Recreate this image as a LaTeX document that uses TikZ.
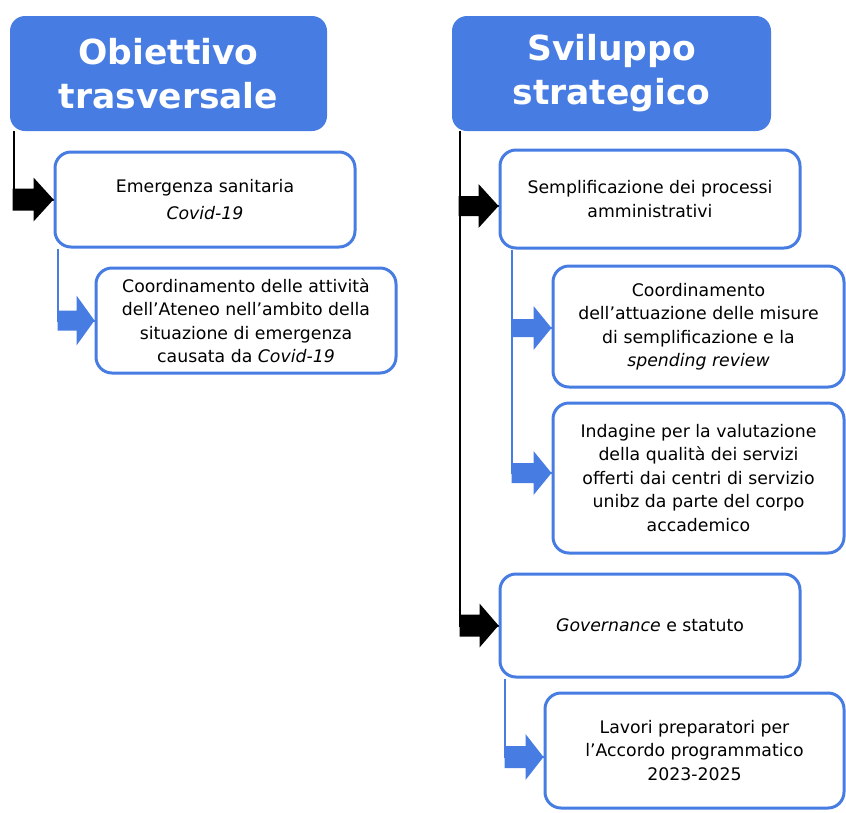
\documentclass[tikz,border=0pt]{standalone}
\usepackage{fontspec}
\setmainfont{DejaVu Sans}
\usetikzlibrary{calc}
\definecolor{ublue}{RGB}{71,125,226}
% #1 colour, #2 tip, #3 head length, #4 head half height, #5 shaft half height, #6 total length
\newcommand\blockarr[6]{%
  \fill[#1] (#2) -- ++(-#3,-#4) -- ++(0,{#4-#5}) -- ++({#3-#6},0) -- ++(0,{2*#5})
     -- ++({#6-#3},0) -- ++(0,{#4-#5}) -- cycle;}
\begin{document}
\begin{tikzpicture}[x=1pt,y=-1pt,
  head/.style={draw=none, fill=ublue, rounded corners=15pt, text=white,
    font=\fontsize{34.5}{44}\selectfont\bfseries, align=center, inner sep=0pt},
  box/.style={draw=ublue, line width=3pt, rounded corners=16pt, fill=white,
    align=center, font=\fontsize{17.3}{23.5}\selectfont, inner sep=0pt},
  vline/.style={line width=2pt}]
\useasboundingbox (0,0) rectangle (846,812);

% headers
\node[head, minimum width=317pt, minimum height=115pt] (h1) at (168.5,73.5) {Obiettivo\\trasversale};
\node[head, minimum width=319pt, minimum height=115pt] (h2) at (611.5,73.5) {Sviluppo\\strategico};

% box positions
\path
  (205,199.5) coordinate (c1)
  (246,320.5) coordinate (c2)
  (650,199) coordinate (c3)
  (698.5,326.5) coordinate (c4)
  (698.5,478) coordinate (c5)
  (650,625.5) coordinate (c6)
  (694.5,750.5) coordinate (c7);

\node[box, draw=none, fill=none, minimum width=300pt, minimum height=95pt] (b1) at (c1) {};
\node[box, draw=none, fill=none, minimum width=300pt, minimum height=105pt] (b2) at (c2) {};
\node[box, draw=none, fill=none, minimum width=300pt, minimum height=98pt] (b3) at (c3) {};
\node[box, draw=none, fill=none, minimum width=291pt, minimum height=121pt] (b4) at (c4) {};
\node[box, draw=none, fill=none, minimum width=291pt, minimum height=150pt] (b5) at (c5) {};
\node[box, draw=none, fill=none, minimum width=300pt, minimum height=103pt] (b6) at (c6) {};
\node[box, draw=none, fill=none, minimum width=299pt, minimum height=115pt] (b7) at (c7) {};

% connector lines
\draw[vline] ([xshift=4pt]h1.south west) |- (b1.west);
\draw[vline, ublue] ([xshift=4pt]b1.south west) |- (b2.west);
\draw[vline] ([xshift=8pt]h2.south west) |- ([yshift=-7pt]b3.west);
\draw[vline] ([xshift=8pt]h2.south west) |- (b6.west);
\draw[vline, ublue] ([xshift=13pt]b3.south west) |- ([yshift=-1.5pt]b4.west);
\draw[vline, ublue] ([xshift=13pt]b3.south west) |- ([yshift=5pt]b5.west);
\draw[vline, ublue] ([xshift=6pt]b6.south west) |- ([yshift=-6.5pt]b7.west);

% visible boxes
\node[box, minimum width=300pt, minimum height=95pt] at (c1) {Emergenza sanitaria\\[3pt]\textit{Covid-19}};
\node[box, minimum width=300pt, minimum height=105pt] at (c2) {Coordinamento delle attività\\dell’Ateneo nell’ambito della\\situazione di emergenza\\causata da \textit{Covid-19}};
\node[box, minimum width=300pt, minimum height=98pt] at (c3) {Semplificazione dei processi\\amministrativi};
\node[box, minimum width=291pt, minimum height=121pt] at (c4) {Coordinamento\\dell’attuazione delle misure\\di semplificazione e la\\\textit{spending review}};
\node[box, minimum width=291pt, minimum height=150pt] at (c5) {Indagine per la valutazione\\della qualità dei servizi\\offerti dai centri di servizio\\unibz da parte del corpo\\accademico};
\node[box, minimum width=300pt, minimum height=103pt] at (c6) {\textit{Governance} e statuto};
\node[box, minimum width=299pt, minimum height=115pt] at (c7) {Lavori preparatori per\\l’Accordo programmatico\\2023-2025};

% block arrows
\blockarr{black}{b1.west}{20}{22}{11}{41}
\blockarr{ublue}{b2.west}{18}{25}{10}{37}
\blockarr{black}{[yshift=-7pt]b3.west}{20}{22}{10}{40}
\blockarr{ublue}{[yshift=-1.5pt]b4.west}{18}{22}{9}{40}
\blockarr{ublue}{[yshift=5pt]b5.west}{18}{22}{10}{40}
\blockarr{black}{b6.west}{19}{22}{11}{39}
\blockarr{ublue}{[yshift=-6.5pt]b7.west}{18}{23}{11}{39}
\end{tikzpicture}
\end{document}
